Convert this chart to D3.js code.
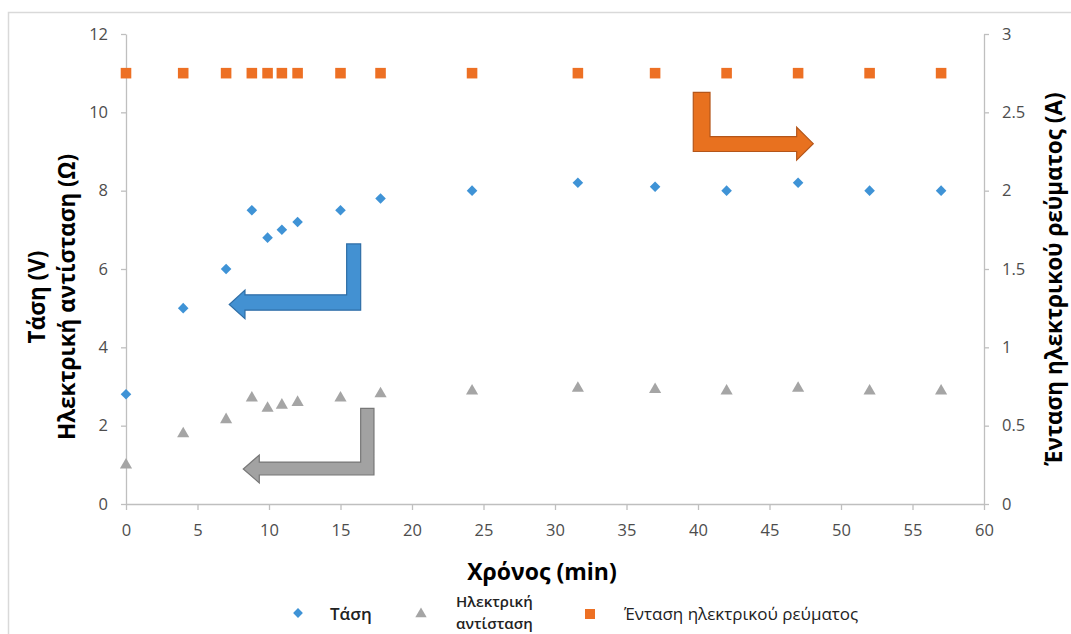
<!DOCTYPE html>
<html>
<head>
<meta charset="utf-8">
<script src="https://cdn.jsdelivr.net/npm/d3@7"></script>
<style>
  html, body { margin: 0; padding: 0; background: #fff; }
  svg { display: block; font-family: "Open Sans", sans-serif; }
</style>
</head>
<body>
<svg id="chart" width="1071" height="634"></svg>
<script>
// ---- data ----
const timeMin = [0, 4, 7, 8.8, 9.9, 10.9, 12, 15, 17.8, 24.2, 31.6, 37, 42, 47, 52, 57];
const voltage = [2.8, 5.0, 6.0, 7.5, 6.8, 7.0, 7.2, 7.5, 7.8, 8.0, 8.2, 8.1, 8.0, 8.2, 8.0, 8.0];
const resistance = [1.02, 1.82, 2.18, 2.73, 2.47, 2.55, 2.62, 2.73, 2.84, 2.91, 2.98, 2.95, 2.91, 2.98, 2.91, 2.91];
const current = [2.75, 2.75, 2.75, 2.75, 2.75, 2.75, 2.75, 2.75, 2.75, 2.75, 2.75, 2.75, 2.75, 2.75, 2.75, 2.75];
const xTicks = [0, 5, 10, 15, 20, 25, 30, 35, 40, 45, 50, 55, 60];
const yLeftTicks = [0, 2, 4, 6, 8, 10, 12];
const yRightTicks = [0, 0.5, 1, 1.5, 2, 2.5, 3];
const legendLabels = ["Τάση", "Ηλεκτρική αντίσταση", "Ένταση ηλεκτρικού ρεύματος"];
const xTitle = "Χρόνος (min)";
const yLeftTitle = ["Τάση (V)", "Ηλεκτρική αντίσταση (Ω)"];
const yRightTitle = "Ένταση ηλεκτρικού ρεύματος (A)";

// bent arrow annotations (in data units: x = min, y = left axis)
const arrows = [
  {inner: 15.43, outer: 16.41, top: 6.64, shaftTop: 5.34, shaftBot: 4.95, headBase: 8.32, headTop: 5.46, headBot: 4.73, tip: 7.22, fill: "#4391d2", stroke: "#2f6ea6"},
  {inner: 16.41, outer: 17.34, top: 2.44, shaftTop: 1.07, shaftBot: 0.74, headBase: 9.32, headTop: 1.25, headBot: 0.54, tip: 8.20, fill: "#a2a2a2", stroke: "#777777"},
  {inner: 40.84, outer: 39.67, top: 10.51, shaftTop: 9.38, shaftBot: 9.0, headBase: 46.9, headTop: 9.62, headBot: 8.78, tip: 48.06, fill: "#e8711f", stroke: "#b4561a"}
];

const colors = {v: "#3f93d6", r: "#a5a5a5", i: "#ed7024"};

const svg = d3.select("#chart");
// chart frame
svg.append("rect").attr("x", 8.5).attr("y", 12.5).attr("width", 1200).attr("height", 800)
  .attr("fill", "none").attr("stroke", "#d9d9d9").attr("stroke-width", 1.5);

const x = d3.scaleLinear().domain([0, 60]).range([126, 984]);
const yL = d3.scaleLinear().domain([0, 12]).range([504, 34]);
const yR = d3.scaleLinear().domain([0, 3]).range([504, 34]);

function styleAxis(g) {
  g.selectAll("path.domain").attr("stroke", "#bfbfbf").attr("stroke-width", 1.3);
  g.selectAll(".tick line").attr("stroke", "#bfbfbf").attr("stroke-width", 1.3);
  g.selectAll(".tick text").attr("fill", "#4d4d4d").attr("font-size", 16.5)
    .attr("font-family", "'Open Sans', sans-serif");
}

svg.append("g").attr("transform", "translate(0,504)")
  .call(d3.axisBottom(x).tickValues(xTicks).tickSize(6).tickSizeOuter(0).tickPadding(14).tickFormat(d3.format("d")))
  .call(styleAxis);
svg.append("g").attr("transform", "translate(126,0)")
  .call(d3.axisLeft(yL).tickValues(yLeftTicks).tickSize(5).tickSizeOuter(0).tickPadding(13).tickFormat(d3.format("d")))
  .call(styleAxis);
svg.append("g").attr("transform", "translate(984,0)")
  .call(d3.axisRight(yR).tickValues(yRightTicks).tickSize(5).tickSizeOuter(0).tickPadding(13).tickFormat(d => String(d)))
  .call(styleAxis);

// arrows
const arrowPath = a => {
  const p = [[a.inner, a.top], [a.outer, a.top], [a.outer, a.shaftBot], [a.headBase, a.shaftBot],
             [a.headBase, a.headBot], [a.tip, (a.headTop + a.headBot) / 2], [a.headBase, a.headTop],
             [a.headBase, a.shaftTop], [a.inner, a.shaftTop]];
  return "M" + p.map(d => x(d[0]) + "," + yL(d[1])).join("L") + "Z";
};
svg.append("g").selectAll("path").data(arrows).join("path")
  .attr("d", arrowPath).attr("fill", d => d.fill).attr("stroke", d => d.stroke).attr("stroke-width", 1.2);

const pts = timeMin.map((t, i) => ({t, v: voltage[i], r: resistance[i], c: current[i]}));
const diamond = d3.symbol().type(d3.symbolSquare).size(56);
const tri = d3.symbol().type(d3.symbolTriangle).size(64);
const sq = d3.symbol().type(d3.symbolSquare).size(112);

svg.append("g").selectAll("path").data(pts).join("path")
  .attr("d", sq).attr("fill", colors.i)
  .attr("transform", d => `translate(${x(d.t)},${yR(d.c)})`);
svg.append("g").selectAll("path").data(pts).join("path")
  .attr("d", diamond).attr("fill", colors.v)
  .attr("transform", d => `translate(${x(d.t)},${yL(d.v)}) rotate(45)`);
svg.append("g").selectAll("path").data(pts).join("path")
  .attr("d", tri).attr("fill", colors.r)
  .attr("transform", d => `translate(${x(d.t)},${yL(d.r) + 1})`);

// titles
svg.append("text").attr("x", 542).attr("y", 580).attr("text-anchor", "middle")
  .attr("font-size", 23).attr("font-weight", 700).attr("fill", "#000").text(xTitle);

const lt = svg.append("text").attr("transform", "translate(0,297) rotate(-90)")
  .attr("text-anchor", "middle").attr("font-size", 22.5).attr("font-weight", 700).attr("fill", "#000");
lt.append("tspan").attr("x", 0).attr("y", 45).text(yLeftTitle[0]);
lt.append("tspan").attr("x", 0).attr("y", 75).text(yLeftTitle[1]);

svg.append("text").attr("transform", "translate(1062,279) rotate(-90)")
  .attr("text-anchor", "middle").attr("font-size", 22.5).attr("font-weight", 700).attr("fill", "#000")
  .text(yRightTitle);

// legend
const lg = svg.append("g");
lg.append("path").attr("d", d3.symbol().type(d3.symbolSquare).size(48)()).attr("fill", colors.v)
  .attr("transform", "translate(298,613) rotate(45)");
lg.append("text").attr("x", 330).attr("y", 620).attr("font-size", 17).attr("font-weight", 600).attr("fill", "#222").text(legendLabels[0]);
lg.append("path").attr("d", d3.symbol().type(d3.symbolTriangle).size(56)()).attr("fill", colors.r)
  .attr("transform", "translate(421,614)");
const l2 = lg.append("text").attr("font-size", 15).attr("font-weight", 600).attr("fill", "#222");
const words = legendLabels[1].split(" ");
l2.append("tspan").attr("x", 456).attr("y", 607).text(words[0]);
l2.append("tspan").attr("x", 456).attr("y", 629).text(words[1]);
lg.append("path").attr("d", d3.symbol().type(d3.symbolSquare).size(100)()).attr("fill", colors.i)
  .attr("transform", "translate(590,614)");
lg.append("text").attr("x", 624).attr("y", 620).attr("font-size", 17).attr("font-weight", 400).attr("fill", "#222").text(legendLabels[2]);
</script>
</body>
</html>
